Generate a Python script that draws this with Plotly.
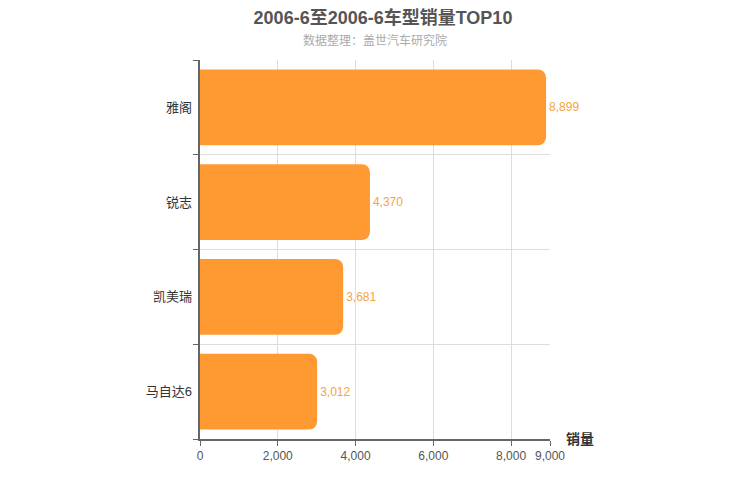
import plotly.graph_objects as go

# 2006-6 sales, top models
models = ['雅阁', '锐志', '凯美瑞', '马自达6']
sales = [8899, 4370, 3681, 3012]
x_ticks = [0, 2000, 4000, 6000, 8000, 9000]

font_family = 'Liberation Sans, Noto Sans CJK SC, sans-serif'
bar_color = '#ff9a33'

fig = go.Figure()
fig.add_trace(go.Bar(
    x=sales,
    y=models,
    orientation='h',
    marker=dict(color=bar_color, line=dict(width=0)),
    width=0.8,
    text=sales,
    texttemplate='%{x:,}',
    textposition='outside',
    textfont=dict(color='#f5a445', size=12),
    cliponaxis=False,
    hoverinfo='x+y',
))

# page body adds an 8px offset, margins compensate for it
fig.update_layout(
    width=750,
    height=500,
    margin=dict(l=192, r=208, t=52, b=69),
    paper_bgcolor='white',
    plot_bgcolor='white',
    font=dict(family=font_family),
    showlegend=False,
    barcornerradius=8,
    title=dict(
        text='<b>2006-6至2006-6车型销量TOP10</b>',
        x=0.5, xanchor='center', y=0.98, yanchor='middle',
        font=dict(size=18, color='#555555'),
    ),
    xaxis=dict(
        range=[0, 9000],
        tickvals=x_ticks,
        tickformat=',',
        showgrid=True,
        gridcolor='#dddddd',
        showline=True,
        linecolor='#666666',
        linewidth=1.5,
        ticks='outside',
        ticklen=5,
        tickcolor='#666666',
        tickfont=dict(size=12, color='#555555'),
        zeroline=False,
    ),
    yaxis=dict(
        type='category',
        categoryorder='array',
        categoryarray=models[::-1],
        tickson='boundaries',
        showgrid=True,
        gridcolor='#dddddd',
        showline=True,
        linecolor='#666666',
        linewidth=1.5,
        ticks='outside',
        ticklen=5,
        tickcolor='#666666',
        tickfont=dict(size=13, color='#333333'),
        ticksuffix=' ',
    ),
)

fig.add_annotation(
    text='数据整理：盖世汽车研究院',
    xref='paper', yref='paper', x=0.5, y=1,
    yshift=20, xanchor='center', yanchor='middle',
    showarrow=False,
    font=dict(size=12, color='#aaaaaa'),
)
fig.add_annotation(
    text='<b>销量</b>',
    xref='paper', yref='paper', x=1, y=0,
    xshift=14, xanchor='left', yanchor='middle',
    showarrow=False,
    font=dict(size=14, color='#333333'),
)

fig.write_html('out.html')
